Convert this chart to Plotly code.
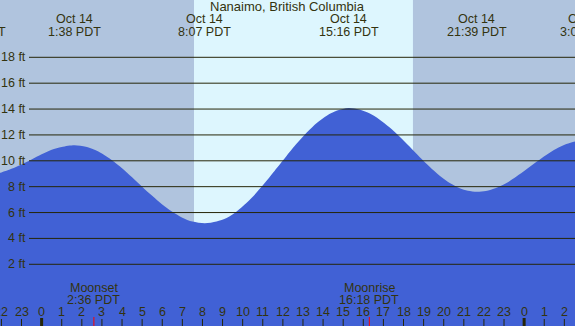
import plotly.graph_objects as go

# ---- data ----
station = "Nanaimo, British Columbia"
tide_hours = [-3.25, -2.5, -2, -1.5, -1, -0.5, 0, 0.5, 1, 1.63, 2.2, 2.6, 3, 3.5, 4, 4.5, 5, 5.5,
              6, 6.5, 7, 7.5, 8.12, 8.7, 9.2, 9.7, 10.2, 10.7, 11.2, 11.7, 12.2, 12.7, 13.2,
              13.7, 14.2, 14.7, 15.27, 15.8, 16.3, 16.8, 17.3, 17.8, 18.3, 18.8, 19.3, 19.8,
              20.3, 20.8, 21.2, 21.65, 22.1, 22.6, 23.1, 23.6, 24.1, 24.6, 25.1, 25.6, 26.1,
              26.6, 27.08]
tide_feet = [8.8, 8.92, 9.1, 9.38, 9.72, 10.1, 10.5, 10.85, 11.07, 11.2, 11.09, 10.87, 10.56,
             10.05, 9.43, 8.73, 8.0, 7.29, 6.62, 6.06, 5.6, 5.3, 5.17, 5.31, 5.58, 6.08, 6.75,
             7.56, 8.47, 9.44, 10.41, 11.35, 12.2, 12.94, 13.51, 13.89, 14.08, 13.97, 13.67,
             13.2, 12.59, 11.88, 11.1, 10.3, 9.54, 8.85, 8.29, 7.88, 7.68, 7.6, 7.66, 7.89,
             8.26, 8.76, 9.32, 9.9, 10.45, 10.93, 11.3, 11.52, 11.6]
extreme_hours = [-3.25, 1.633, 8.117, 15.267, 21.65, 27.08]
extreme_dates = ["Oct 13", "Oct 14", "Oct 14", "Oct 14", "Oct 14", "Oct 15"]
extreme_times = ["20:45 PDT", "1:38 PDT", "8:07 PDT", "15:16 PDT", "21:39 PDT", "3:05 PDT"]
sunrise, sunset = 7.58, 18.47
moon_hours = [2.6, 16.3]
moon_events = ["Moonset", "Moonrise"]
moon_times = ["2:36 PDT", "16:18 PDT"]
hour_ticks = list(range(-2, 27))
hour_labels = [str(h % 24) for h in hour_ticks]
grid_feet = [2, 4, 6, 8, 10, 12, 14, 16, 18]

W, H = 575, 326
x_range = [-2.07, 26.53]
y_range = [-2.77, 22.43]

NIGHT = "#b0c4de"
DAY = "#ddf6fe"
WATER = "#4161d5"
INK = "#33330f"
LINE = "#262608"
FONT = "Liberation Sans"
FS = 12.5

fig = go.Figure()
fig.add_trace(go.Scatter(x=[x_range[0] - 3, x_range[1] + 3], y=[y_range[0] - 1] * 2,
                         mode="lines", line=dict(width=0), hoverinfo="skip", showlegend=False))
fig.add_trace(go.Scatter(x=tide_hours, y=tide_feet, mode="lines",
                         line=dict(width=0, shape="spline", smoothing=0.8),
                         fill="tonexty", fillcolor=WATER, hoverinfo="skip", showlegend=False))

shapes = []
shapes.append(dict(type="rect", xref="x", yref="paper", x0=sunrise, x1=sunset, y0=0, y1=1,
                   fillcolor=DAY, line=dict(width=0), layer="below"))
for v in grid_feet:
    shapes.append(dict(type="line", xref="paper", yref="y", x0=29 / W, x1=1, y0=v, y1=v,
                       line=dict(color=LINE, width=1), layer="above"))
for h in hour_ticks:
    mid = (h % 24 == 0)
    shapes.append(dict(type="line", xref="x", yref="paper", x0=h, x1=h, y0=0,
                       y1=(8 if mid else 7) / H,
                       line=dict(color=LINE, width=3 if mid else 1), layer="above"))
for h in moon_hours:
    shapes.append(dict(type="line", xref="x", yref="paper", x0=h, x1=h, y0=0, y1=9 / H,
                       line=dict(color="#ff0000", width=1), layer="above"))

def xpaper(h):
    return (h - x_range[0]) / (x_range[1] - x_range[0])

ann = []
font = dict(family=FONT, size=FS, color=INK)
ann.append(dict(xref="paper", yref="paper", x=287 / W, y=1 - 7 / H, text=station,
                showarrow=False, font=dict(family=FONT, size=13, color=INK),
                xanchor="center", yanchor="middle"))
for h, d, t in zip(extreme_hours, extreme_dates, extreme_times):
    xp = xpaper(h)
    ann.append(dict(xref="paper", yref="paper", x=xp, y=1 - 19.5 / H, text=d, showarrow=False,
                    font=font, xanchor="center", yanchor="middle"))
    ann.append(dict(xref="paper", yref="paper", x=xp, y=1 - 31.5 / H, text=t, showarrow=False,
                    font=font, xanchor="center", yanchor="middle"))
for v in grid_feet:
    ann.append(dict(xref="paper", yref="y", x=27.5 / W, y=v, text=f"{v} ft", showarrow=False,
                    font=font, xanchor="right", yanchor="middle", xshift=0))
for h, e, t in zip(moon_hours, moon_events, moon_times):
    ann.append(dict(xref="x", yref="paper", x=h, y=1 - 287.5 / H, text=e, showarrow=False,
                    font=font, xanchor="center", yanchor="middle"))
    ann.append(dict(xref="x", yref="paper", x=h, y=1 - 299.5 / H, text=t, showarrow=False,
                    font=font, xanchor="center", yanchor="middle"))
for h, lab in zip(hour_ticks, hour_labels):
    ann.append(dict(xref="x", yref="paper", x=h, y=1 - 311.5 / H, text=lab, showarrow=False,
                    font=font, xanchor="center", yanchor="middle"))

fig.update_layout(
    width=W, height=H, margin=dict(l=0, r=0, t=0, b=0),
    paper_bgcolor=NIGHT, plot_bgcolor=NIGHT,
    xaxis=dict(range=x_range, showgrid=False, zeroline=False, showticklabels=False,
               showline=False, ticks=""),
    yaxis=dict(range=y_range, showgrid=False, zeroline=False, showticklabels=False,
               showline=False, ticks=""),
    shapes=shapes, annotations=ann, showlegend=False,
)
fig.write_html("out.html", config={"displayModeBar": False},
               post_script="document.body.style.margin='0';document.body.style.overflow='hidden';")
